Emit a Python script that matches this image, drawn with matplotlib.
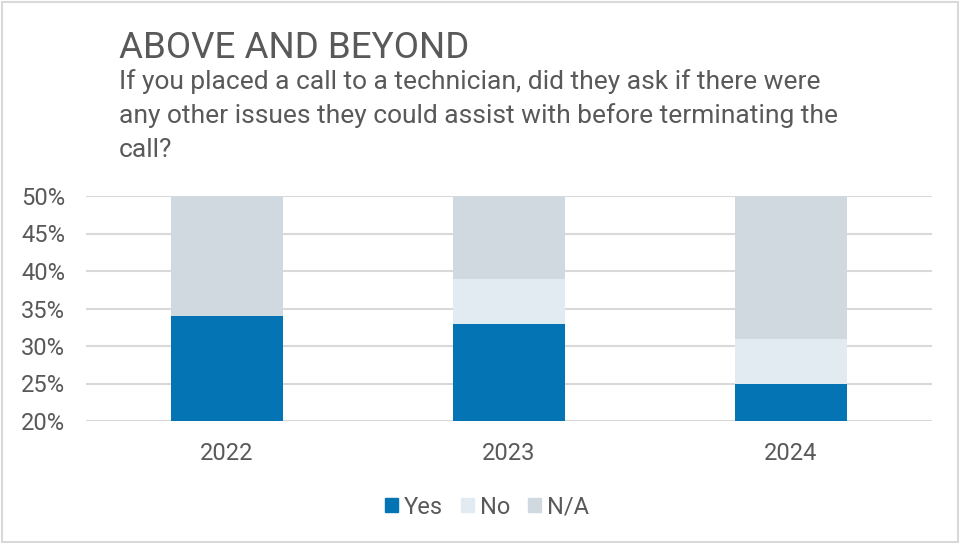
import numpy as np
import matplotlib.pyplot as plt
import matplotlib.patches as mpatches

years = ['2022', '2023', '2024']
yes = [34, 33, 25]
no = [0, 6, 6]
na = [66, 61, 69]

series_names = ['Yes', 'No', 'N/A']
colors = ['#0574B4', '#E3EBF2', '#CFD9DF']
text_col = '#595959'

plt.rcParams['font.family'] = ['Roboto', 'DejaVu Sans']

fig = plt.figure(figsize=(9.6, 5.43), dpi=100)
ax = fig.add_axes([86/960, 1 - 421/543, (932-86)/960, (421-196)/543])

x = np.arange(len(years))
bottom = np.zeros(len(years))
for vals, name, c in zip([yes, no, na], series_names, colors):
    ax.bar(x, vals, width=0.4, bottom=bottom, color=c, label=name, zorder=2)
    bottom += np.array(vals)

ax.set_xlim(-0.5, 2.5)
ax.set_ylim(20, 50)
ax.set_yticks(np.arange(20, 51, 5))
ax.set_yticklabels([f'{v}%' for v in range(20, 51, 5)])
ax.set_xticks(x)
ax.set_xticklabels(years)
ax.tick_params(axis='both', length=0, labelsize=17, colors=text_col)
ax.tick_params(axis='x', pad=15)
ax.tick_params(axis='y', pad=15)
ax.grid(axis='y', color='#D9D9D9', linewidth=1.5, zorder=0)
for s in ax.spines.values():
    s.set_visible(False)

# title block
fig.text(119/960, 1 - 48/543, 'ABOVE AND BEYOND', fontsize=26.5, color=text_col,
         va='center', ha='left')
fig.text(119/960, 1 - 69/543,
         'If you placed a call to a technician, did they ask if there were\n'
         'any other issues they could assist with before terminating the\n'
         'call?', fontsize=19, color=text_col, va='top', ha='left',
         linespacing=1.48)

handles = [mpatches.Patch(color=c, label=n) for c, n in zip(colors, series_names)]
fig.legend(handles=handles, loc='center', bbox_to_anchor=(487/960, 1 - 507/543),
           ncol=3, frameon=False, fontsize=17, handlelength=0.55,
           handleheight=0.55, handletextpad=0.25, columnspacing=0.75,
           labelcolor=text_col)

# thin frame around the whole chart
fig.patches.append(mpatches.Rectangle((0.002, 0.002), 0.996, 0.994,
                                      transform=fig.transFigure, fill=False,
                                      edgecolor='#D9D9D9', linewidth=1.5))

fig.savefig('out.png', dpi=100)
